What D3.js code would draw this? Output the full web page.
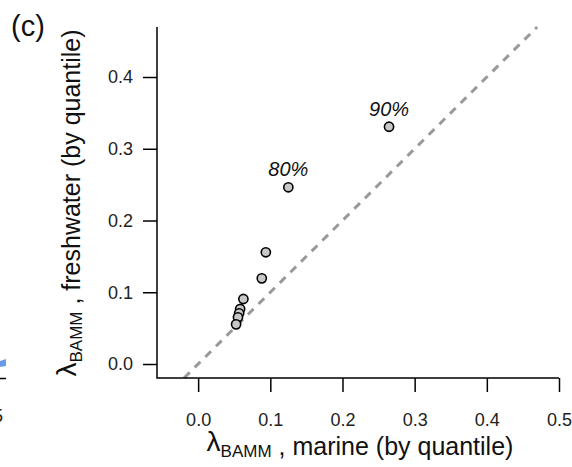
<!DOCTYPE html>
<html>
<head>
<meta charset="utf-8">
<script src="https://cdn.jsdelivr.net/npm/d3@7"></script>
<style>
  body { margin: 0; background: #fff; }
  svg { display: block; font-family: "Liberation Sans", Arial, sans-serif; }
</style>
</head>
<body>
<div id="chart"></div>
<script>
// quantile summaries of lambda (BAMM), marine vs freshwater
const quantiles = ["10%", "20%", "30%", "40%", "50%", "60%", "70%", "80%", "90%"];
const marine = [0.0526, 0.0552, 0.0568, 0.0582, 0.0627, 0.0882, 0.0938, 0.125, 0.2645];
const freshwater = [0.0553, 0.0650, 0.0707, 0.0767, 0.0906, 0.1194, 0.1557, 0.2463, 0.3307];
const labelled = ["80%", "90%"];
const xTicks = [0, 0.1, 0.2, 0.3, 0.4, 0.5];
const yTicks = [0, 0.1, 0.2, 0.3, 0.4];

const width = 572, height = 467;

const svg = d3.select("#chart")
    .append("svg")
    .attr("width", width)
    .attr("height", height);

const x = d3.scaleLinear()
    .domain([-0.057, 0.5])
    .range([157, 559]);

const y = d3.scaleLinear()
    .domain([-0.0195, 0.4697])
    .range([378, 27]);

const points = quantiles.map((q, i) => ({q: q, mx: marine[i], fw: freshwater[i]}));

// bits of the neighbouring panel (b) cut off at the left edge
svg.append("path")
    .attr("d", "M0,361 L6,359 L6,366 L0,367 Z")
    .attr("fill", "#6a9be8");
svg.append("line")
    .attr("x1", 0).attr("x2", 6)
    .attr("y1", 378.5).attr("y2", 378.5)
    .attr("stroke", "#000")
    .attr("stroke-width", 1.5);
svg.append("text")
    .attr("x", 3)
    .attr("y", 422)
    .attr("text-anchor", "end")
    .attr("font-size", 18)
    .attr("fill", "#222")
    .text("0.5");

// 1:1 reference line
const lo = Math.max(x.domain()[0], y.domain()[0]);
const hi = Math.min(x.domain()[1], y.domain()[1]);
svg.append("line")
    .attr("x1", x(lo)).attr("y1", y(lo))
    .attr("x2", x(hi)).attr("y2", y(hi))
    .attr("stroke", "#999")
    .attr("stroke-width", 3)
    .attr("stroke-dasharray", "8,7");

// L shaped frame
svg.append("path")
    .attr("d", `M${x.range()[0]},${y.range()[1]} V${y.range()[0]} H${x.range()[1]}`)
    .attr("fill", "none")
    .attr("stroke", "#000")
    .attr("stroke-width", 1.5);

const gx = svg.append("g")
    .attr("transform", `translate(0, ${y.range()[0]})`)
    .call(d3.axisBottom(x)
        .tickValues(xTicks)
        .tickSize(14)
        .tickPadding(21)
        .tickFormat(d3.format(".1f")));

const gy = svg.append("g")
    .attr("transform", `translate(${x.range()[0]}, 0)`)
    .call(d3.axisLeft(y)
        .tickValues(yTicks)
        .tickSize(14)
        .tickPadding(10)
        .tickFormat(d3.format(".1f")));

[gx, gy].forEach(g => {
    g.select(".domain").remove();
    g.selectAll(".tick line").attr("stroke", "#000").attr("stroke-width", 1.5);
    g.selectAll(".tick text")
        .attr("font-family", "'Liberation Sans', Arial, sans-serif")
        .attr("font-size", 18)
        .attr("fill", "#222");
});

// points, largest quantile first so the crowded low ones sit on top
svg.selectAll(".pt")
    .data(points.slice().reverse())
    .enter()
    .append("circle")
    .attr("class", "pt")
    .attr("cx", d => x(d.mx))
    .attr("cy", d => y(d.fw))
    .attr("r", 4.6)
    .attr("fill", "#c8c8c8")
    .attr("stroke", "#000")
    .attr("stroke-width", 1.6);

svg.selectAll(".qlab")
    .data(points.filter(d => labelled.includes(d.q)))
    .enter()
    .append("text")
    .attr("class", "qlab")
    .attr("x", d => x(d.mx))
    .attr("y", d => y(d.fw) - 11)
    .attr("text-anchor", "middle")
    .attr("font-style", "italic")
    .attr("font-size", 20)
    .attr("fill", "#111")
    .text(d => d.q);

// axis titles
function lambdaTitle(sel, rest) {
    sel.append("tspan").attr("font-size", 28).attr("dy", -4).text("λ");
    sel.append("tspan").attr("font-size", 17).attr("dy", 6).text("BAMM");
    sel.append("tspan").attr("font-size", 25).attr("dy", -2).text(" , " + rest);
}

svg.append("text")
    .attr("x", 360)
    .attr("y", 455)
    .attr("text-anchor", "middle")
    .attr("fill", "#111")
    .call(lambdaTitle, "marine (by quantile)");

svg.append("text")
    .attr("transform", "translate(80, 203) rotate(-90)")
    .attr("text-anchor", "middle")
    .attr("fill", "#111")
    .call(lambdaTitle, "freshwater (by quantile)");

svg.append("text")
    .attr("x", 11)
    .attr("y", 36)
    .attr("font-size", 29)
    .attr("fill", "#111")
    .text("(c)");
</script>
</body>
</html>
